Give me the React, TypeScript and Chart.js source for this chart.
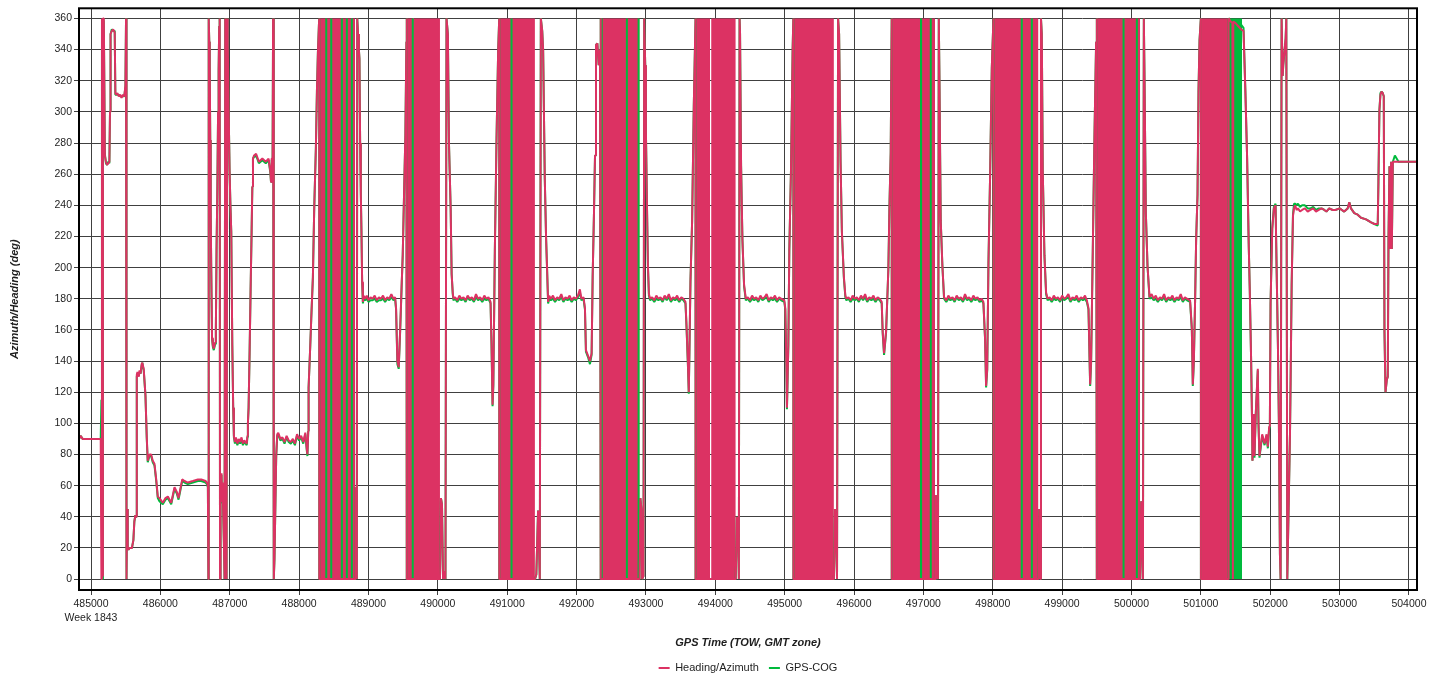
import { useEffect, useRef } from 'react';
import { Chart, registerables } from 'chart.js';

Chart.register(...registerables);

// GPS time of week (s)
const tow = [
  484827, 484850, 484865, 484880, 485000, 485100, 485140,
  485150, 485158, 485165, 485172, 485185, 485200, 485215, 485230, 485250, 485265,
  485274, 485282, 485300, 485320, 485342, 485351, 485365, 485380, 485400, 485420,
  485440, 485460, 485480, 485496, 485505, 485512,
  485520, 485530, 485540, 485560, 485590, 485611, 485625, 485640, 485652, 485660,
  485670, 485690, 485700, 485715, 485730, 485740, 485760, 485785, 485804, 485818,
  485843, 485867, 485890, 485915, 485940, 485963, 485987, 486035, 486074, 486108, 486156,
  486204, 486237, 486262, 486315, 486348, 486396, 486469, 486541, 486589, 486652, 486671,
  486685, 486692, 486697, 486705, 486712, 486719, 486726, 486733, 486745, 486757,
  486770, 486790, 486800, 486810, 486822, 486832, 486840, 486848, 486855, 486860,
  486868, 486875, 486882, 486890, 486897, 486905, 486915, 486925, 486935, 486945,
  486955, 486965, 486972, 486985, 486998, 487010, 487022, 487037, 487050, 487060,
  487075, 487090, 487110, 487130, 487150, 487170, 487190, 487210, 487230, 487245, 487255,
  487262, 487272, 487287, 487301, 487316, 487326, 487335, 487350, 487380, 487420,
  487470, 487520, 487560, 487585, 487595, 487605, 487618, 487625, 487635, 487645,
  487670, 487685, 487700, 487730, 487760, 487790, 487820, 487850, 487880, 487910,
  487940, 487970, 488000, 488030, 488060, 488090, 488110, 488120, 488132, 488137,
  488161, 488175, 488199, 488218, 488242, 488257, 488271, 488285, 488290,
  488291, 488390, 488391, 488392, 488462, 488463, 488464, 488615, 488616, 488617, 488687, 488688, 488689, 488759, 488760, 488761, 488808,
  488815, 488825, 488832, 488838, 488850, 488862, 488870, 488880, 488890, 488899, 488909, 488920, 488930,
  488950, 488975, 489000, 489030, 489060, 489090, 489120, 489150, 489180, 489210, 489240, 489270, 489300, 489330, 489360, 489384,
  489398, 489417, 489436, 489456, 489480, 489494, 489513, 489532, 489547, 489552,
  489553, 489637, 489638, 489639, 490031,
  490045, 490060, 490075, 490090, 490110, 490125, 490145, 490161, 490185, 490199, 490215, 490225,
  490250, 490280, 490310, 490340, 490370, 490400, 490430, 490460, 490490, 490520, 490550, 490580, 490610, 490640, 490670, 490700, 490730, 490760,
  490774, 490789, 490800, 490822, 490846, 490870, 490885,
  490886, 491061, 491062, 491063, 491400,
  491420, 491445, 491460, 491470, 491485, 491505, 491518, 491542, 491560, 491575, 491590, 491605,
  491630, 491660, 491690, 491720, 491750, 491780, 491810, 491840, 491870, 491900, 491930, 491960, 491990, 492020, 492048, 492070, 492100,
  492121, 492135, 492169, 492193, 492217, 492232, 492251, 492266, 492280, 492300, 492319, 492338, 492348,
  492349, 492361, 492362, 492363, 492724, 492725, 492726, 492893, 492894, 492895, 492908,
  492920, 492935, 492945, 492965, 492975, 492990, 493000, 493014, 493029, 493043, 493060,
  493090, 493120, 493150, 493180, 493210, 493240, 493270, 493300, 493330, 493360, 493390, 493420, 493450, 493480, 493510, 493540, 493570,
  493584, 493604, 493618, 493642, 493666, 493690, 493715,
  493716, 494295,
  494310, 494325, 494340, 494350, 494357, 494372, 494391, 494415, 494440,
  494470, 494500, 494530, 494560, 494590, 494620, 494650, 494680, 494710, 494740, 494770, 494800, 494830, 494860, 494890, 494920, 494950, 494995,
  495009, 495024, 495033, 495053, 495067, 495091, 495115, 495125,
  495126, 495710,
  495725, 495740, 495755, 495770, 495785, 495806, 495825, 495854, 495875, 495890,
  495920, 495950, 495980, 496010, 496040, 496070, 496100, 496130, 496160, 496190, 496220, 496250, 496280, 496310, 496340, 496370, 496399,
  496413, 496433, 496462, 496495, 496510, 496529, 496543,
  496544, 496965, 496966, 496967, 497105, 497106, 497107, 497168,
  497180, 497195, 497210, 497222, 497231, 497250, 497274, 497298,
  497330, 497360, 497390, 497420, 497450, 497480, 497510, 497540, 497570, 497600, 497630, 497660, 497690, 497720, 497750, 497780, 497810, 497840, 497865,
  497889, 497904, 497920, 497938, 497962, 497986, 498010,
  498011, 498417, 498418, 498419, 498562, 498563, 498564, 498659,
  498670, 498685, 498695, 498707, 498721, 498745, 498769, 498790,
  498820, 498850, 498880, 498910, 498940, 498970, 499000, 499030, 499060, 499090, 499120, 499150, 499180, 499210, 499240, 499270, 499300, 499330, 499356,
  499380, 499404, 499418, 499442, 499466, 499490, 499500,
  499501, 499884, 499885, 499886, 500076, 500077, 500078, 500125,
  500140, 500155, 500165, 500178, 500188, 500207, 500231, 500260,
  500290, 500320, 500350, 500380, 500410, 500440, 500470, 500500, 500530, 500560, 500590, 500620, 500650, 500680, 500710, 500740, 500770, 500800, 500845,
  500870, 500884, 500899, 500918, 500932, 500952, 500966, 500981, 501000,
  501001, 501399,
  501400, 501430, 501455, 501462, 501468, 501500, 501540, 501580, 501615,
  501642, 501667, 501691, 501705, 501725, 501739, 501744, 501763, 501773, 501792,
  501821, 501831, 501845, 501884, 501918, 501947, 501966, 501985, 501995, 502005,
  502029, 502053, 502077, 502092, 502111, 502125, 502140, 502150, 502164, 502179,
  502188, 502208, 502222, 502232, 502246, 502270, 502285, 502294, 502309, 502328, 502343,
  502360, 502380, 502400, 502430, 502460, 502500, 502540, 502580, 502620, 502660,
  502700, 502740, 502780, 502810, 502850, 502900, 502940, 503000, 503067, 503116,
  503140, 503164, 503212, 503261, 503309, 503381, 503454, 503502, 503550,
  503560, 503574, 503589, 503605, 503623, 503637, 503647, 503662, 503681, 503695,
  503705, 503719, 503734, 503743, 503753, 503768, 503797, 503850, 503950, 504050, 504116,
];

// Heading/Azimuth (deg)
const heading = [
  90, 92, 91, 90, 90, 90, 90,
  0, 360, 2, 360, 360, 272, 268, 266, 267, 268,
  300, 350, 352, 353, 351, 312, 311, 312, 310, 311,
  309, 311, 310, 317, 360, 0,
  45, 20, 19, 20, 20, 25, 37, 41, 40, 131,
  133, 130, 134, 132, 138, 139, 135, 118, 91, 76,
  80, 80, 76, 74, 64, 53, 52, 49, 52, 53, 49,
  59, 56, 52, 64, 63, 62, 63, 64, 64, 63, 62,
  60, 0, 360, 345, 330, 282, 235, 200, 155, 150,
  148, 152, 160, 211, 252, 300, 326, 355, 360, 0,
  65, 55, 68, 50, 62, 45, 25, 0, 360, 358,
  0, 360, 343, 300, 262, 240, 223, 150, 110, 92,
  88, 91, 87, 90, 88, 91, 87, 89, 88, 87, 92,
  100, 110, 147, 186, 225, 252, 270, 272, 273, 268,
  270, 268, 270, 262, 255, 270, 270, 360, 0, 13,
  79, 93, 94, 90, 91, 88, 92, 89, 88, 90,
  87, 93, 90, 92, 88, 94, 84, 80, 95, 123,
  150, 167, 194, 238, 277, 313, 338, 355, 360,
  0, 0, 0, 0, 0, 0, 0, 0, 0, 0, 0, 0, 0, 0, 0, 0, 0,
  59, 55, 0, 360, 350, 340, 334, 280, 247, 223, 191, 178, 182,
  180, 182, 179, 181, 180, 182, 179, 181, 180, 182, 179, 181, 180, 183, 180, 181,
  174, 140, 136, 159, 191, 208, 247, 285, 345, 360,
  0, 0, 0, 0, 0,
  52, 48, 0, 5, 0, 360, 350, 279, 238, 196, 184, 180,
  181, 179, 182, 180, 181, 179, 182, 180, 181, 179, 183, 180, 181, 179, 182, 180, 181, 178,
  151, 112, 125, 211, 282, 340, 360,
  0, 0, 0, 0, 0,
  3, 44, 20, 0, 360, 352, 340, 257, 220, 199, 178, 182,
  180, 182, 179, 181, 180, 183, 179, 181, 180, 182, 179, 181, 180, 182, 186, 180, 181,
  174, 147, 143, 140, 145, 194, 235, 272, 343, 344, 330, 340, 360,
  0, 0, 0, 0, 0, 0, 0, 0, 0, 0, 0,
  52, 45, 0, 2, 360, 330, 287, 243, 201, 183, 180,
  181, 179, 182, 180, 181, 179, 182, 180, 183, 179, 181, 180, 182, 179, 181, 180, 178,
  164, 140, 120, 191, 230, 304, 360,
  0, 0,
  40, 35, 0, 360, 350, 265, 218, 189, 180,
  181, 179, 182, 180, 181, 179, 182, 180, 181, 183, 179, 181, 180, 182, 179, 181, 180, 179,
  174, 140, 110, 150, 211, 262, 340, 360,
  0, 0,
  45, 30, 0, 360, 350, 268, 223, 194, 182, 180,
  181, 179, 182, 180, 181, 179, 182, 180, 183, 179, 181, 180, 182, 179, 181, 180, 178,
  159, 145, 159, 199, 238, 274, 360,
  0, 0, 0, 0, 0, 0, 0, 0,
  54, 20, 0, 360, 323, 230, 201, 181,
  179, 182, 180, 181, 179, 182, 180, 181, 179, 183, 180, 181, 179, 182, 180, 181, 179, 180, 178,
  155, 124, 135, 203, 260, 328, 360,
  0, 0, 0, 0, 0, 0, 0, 0,
  45, 0, 360, 350, 262, 208, 184, 180,
  181, 179, 182, 180, 181, 179, 182, 180, 181, 183, 179, 181, 180, 182, 179, 181, 180, 182, 179,
  174, 125, 140, 211, 284, 345, 360,
  0, 0, 0, 0, 0, 0, 0, 0,
  50, 20, 0, 360, 321, 235, 201, 181,
  183, 180, 182, 179, 181, 180, 183, 179, 181, 180, 182, 179, 181, 180, 183, 179, 181, 180, 179,
  161, 125, 140, 181, 218, 247, 313, 346, 360,
  0, 0,
  360, 358, 357, 0, 358, 357, 355, 353, 352,
  313, 270, 213, 186, 140, 98, 76, 106, 79, 107,
  135, 100, 79, 93, 87, 93, 85, 98, 100, 177,
  225, 238, 240, 200, 150, 100, 16, 0, 360, 323,
  330, 340, 347, 360, 0, 57, 93, 128, 189, 233, 238,
  240, 237, 238, 236, 237, 238, 236, 237, 238, 236,
  237, 238, 237, 236, 238, 237, 237, 238, 236, 238,
  242, 238, 235, 234, 232, 231, 229, 228, 228,
  255, 301, 311, 313, 312, 310, 159, 120, 128, 130,
  218, 265, 212, 268, 212, 268, 268, 268, 268, 268, 268,
];

// GPS-COG (deg)
const cog = [
  90, 92, 91, 90, 90, 90, 90,
  115, 340, 0, 360, 358, 273, 267, 266, 268, 267,
  300, 350, 353, 352, 352, 311, 311, 311, 311, 310,
  310, 310, 310, 316, 360, 0,
  45, 20, 19, 20, 20, 25, 37, 41, 40, 130,
  132, 131, 133, 132, 137, 139, 134, 118, 90, 75,
  79, 79, 75, 73, 63, 52, 50, 48, 51, 52, 48,
  58, 55, 51, 63, 62, 61, 62, 63, 63, 62, 61,
  59, 0, 360, 345, 330, 282, 235, 200, 154, 149,
  147, 151, 160, 211, 252, 300, 326, 355, 360, 0,
  64, 54, 67, 49, 61, 44, 25, 0, 360, 358,
  0, 360, 343, 300, 262, 240, 223, 150, 110, 91,
  87, 90, 86, 89, 87, 90, 86, 88, 87, 86, 91,
  100, 110, 147, 186, 225, 252, 270, 271, 272, 267,
  269, 267, 269, 261, 255, 269, 270, 360, 0, 13,
  79, 92, 93, 89, 90, 87, 91, 88, 87, 89,
  86, 92, 89, 91, 87, 93, 83, 79, 95, 123,
  150, 167, 194, 238, 277, 313, 338, 355, 360,
  0, 0, 360, 0, 0, 360, 0, 0, 360, 0, 0, 360, 0, 0, 360, 0, 0,
  59, 55, 0, 360, 350, 340, 334, 280, 247, 223, 190, 177, 180,
  179, 180, 178, 179, 179, 180, 178, 179, 179, 180, 178, 180, 179, 181, 179, 180,
  173, 138, 135, 158, 190, 208, 247, 285, 345, 360,
  0, 0, 360, 0, 0,
  52, 48, 0, 5, 0, 360, 350, 279, 238, 196, 183, 179,
  180, 178, 180, 179, 180, 178, 181, 179, 180, 178, 181, 179, 180, 178, 180, 179, 180, 177,
  150, 111, 124, 211, 282, 340, 360,
  0, 0, 360, 0, 0,
  3, 44, 20, 0, 360, 352, 340, 257, 220, 199, 177, 180,
  179, 180, 178, 180, 179, 181, 178, 180, 179, 180, 178, 180, 179, 181, 184, 179, 180,
  173, 146, 142, 138, 144, 194, 235, 272, 343, 344, 330, 340, 360,
  0, 0, 360, 0, 0, 360, 0, 0, 360, 0, 0,
  52, 45, 0, 2, 360, 330, 287, 243, 201, 182, 179,
  180, 178, 180, 179, 180, 178, 181, 179, 181, 178, 180, 179, 180, 178, 180, 179, 177,
  163, 139, 119, 191, 230, 304, 360,
  0, 0,
  40, 35, 0, 360, 350, 265, 218, 188, 179,
  180, 178, 180, 179, 180, 178, 181, 179, 180, 181, 178, 180, 179, 180, 178, 180, 179, 178,
  173, 139, 109, 150, 211, 262, 340, 360,
  0, 0,
  45, 30, 0, 360, 350, 268, 223, 193, 181, 179,
  180, 178, 180, 179, 180, 178, 181, 179, 181, 178, 180, 179, 180, 178, 180, 179, 177,
  158, 144, 158, 199, 238, 274, 360,
  0, 0, 360, 0, 0, 360, 0, 0,
  54, 20, 0, 360, 323, 230, 201, 180,
  178, 180, 179, 180, 178, 181, 179, 180, 178, 181, 179, 180, 178, 180, 179, 180, 178, 179, 177,
  154, 123, 134, 203, 260, 328, 360,
  0, 0, 360, 0, 0, 360, 0, 0,
  45, 0, 360, 350, 262, 208, 183, 179,
  180, 178, 180, 179, 180, 178, 181, 179, 180, 181, 178, 180, 179, 180, 178, 180, 179, 180, 178,
  173, 124, 139, 211, 284, 345, 360,
  0, 0, 360, 0, 0, 360, 0, 0,
  50, 20, 0, 360, 321, 235, 201, 180,
  181, 179, 180, 178, 180, 179, 181, 178, 180, 179, 180, 178, 180, 179, 181, 178, 180, 179, 178,
  160, 124, 139, 181, 218, 247, 313, 346, 360,
  0, 0,
  360, 359, 358, 358, 358, 358, 357, 356, 354,
  313, 270, 213, 186, 140, 98, 76, 105, 78, 106,
  134, 99, 78, 92, 86, 92, 84, 97, 100, 177,
  225, 239, 241, 200, 150, 100, 16, 0, 360, 323,
  330, 340, 347, 360, 0, 57, 93, 128, 189, 234, 241,
  241, 240, 241, 239, 240, 240, 238, 238, 239, 237,
  238, 238, 237, 236, 238, 237, 237, 238, 236, 238,
  242, 238, 235, 234, 232, 231, 229, 228, 227,
  255, 301, 312, 313, 312, 310, 159, 120, 128, 130,
  218, 265, 212, 268, 212, 268, 272, 268, 268, 268, 268,
];

// Intervals where the trace wraps rapidly between 0 and 360 deg (solid bands)
const headingWrapStart = [488290, 489552, 490885, 492348, 493715, 493940, 495125, 496543, 498010, 499500, 501000];
const headingWrapEnd = [488808, 490031, 491400, 492908, 493925, 494295, 495710, 497168, 498659, 500125, 501400];
const cogWrapStart = [501400];
const cogWrapEnd = [501594];
const wrapLow = 0;
const wrapHigh = 360;

// Axis ticks
const xTickValues = [
  485000, 486000, 487000, 488000, 489000, 490000, 491000, 492000, 493000, 494000,
  495000, 496000, 497000, 498000, 499000, 500000, 501000, 502000, 503000, 504000,
];
const yTickValues = [0, 20, 40, 60, 80, 100, 120, 140, 160, 180, 200, 220, 240, 260, 280, 300, 320, 340, 360];
const weekLabel = 'Week 1843';
const firstTick = 485000;

const RED = '#DC3263';
const GREEN = '#00BA3C';
const FONT = '"Liberation Sans", Arial, sans-serif';
const TEXT = '#1e1e1e';
const GRID = '#404040';

export default function App() {
  const ref = useRef<HTMLCanvasElement | null>(null);

  useEffect(() => {
    if (!ref.current) return;
    const pts = (ys: number[]) => tow.map((t, i) => ({ x: t, y: ys[i] }));
    const band = (s: number, e: number, color: string, label: string) => ({
      label,
      data: [
        { x: s, y: wrapHigh },
        { x: e, y: wrapHigh },
      ],
      borderColor: 'rgba(0,0,0,0)',
      borderWidth: 0,
      backgroundColor: color,
      fill: { value: wrapLow },
      pointRadius: 0,
    });

    const datasets: any[] = [
      {
        label: 'Heading/Azimuth',
        data: pts(heading),
        borderColor: RED,
        backgroundColor: RED,
        borderWidth: 2,
        pointRadius: 0,
        tension: 0,
        fill: false,
        borderJoinStyle: 'bevel',
      },
      {
        label: 'GPS-COG',
        data: pts(cog),
        borderColor: GREEN,
        backgroundColor: GREEN,
        borderWidth: 2,
        pointRadius: 0,
        tension: 0,
        fill: false,
        borderJoinStyle: 'bevel',
      },
      ...headingWrapStart.map((s, i) => band(s, headingWrapEnd[i], RED, 'hw')),
      ...cogWrapStart.map((s, i) => band(s, cogWrapEnd[i], GREEN, 'cw')),
    ];

    const framePlugin = {
      id: 'frame',
      afterDraw(chart: any) {
        const { ctx, chartArea: a } = chart;
        ctx.save();
        ctx.strokeStyle = '#000';
        ctx.lineWidth = 2;
        ctx.strokeRect(a.left, a.top, a.right - a.left, a.bottom - a.top);
        ctx.restore();
      },
    };

    const chart = new Chart(ref.current, {
      type: 'line',
      data: { datasets },
      options: {
        animation: false,
        responsive: false,
        events: [],
        layout: { padding: { left: 0, top: 5, right: 28, bottom: -4.5 } },
        plugins: {
          tooltip: { enabled: false },
          legend: {
            position: 'bottom',
            fullSize: false,
            labels: {
              usePointStyle: true,
              pointStyle: 'line',
              pointStyleWidth: 11,
              padding: 10,
              color: TEXT,
              font: { family: FONT, size: 11 },
              filter: (item: any) => item.datasetIndex < 2,
            },
          },
        },
        scales: {
          x: {
            type: 'linear',
            min: 484827,
            max: 504116,
            afterBuildTicks: (s: any) => {
              s.ticks = xTickValues.map((v) => ({ value: v }));
            },
            afterFit: (s: any) => {
              s.height = 62.5;
            },
            border: { display: false },
            grid: { color: GRID, lineWidth: 1, tickLength: 5, drawTicks: true },
            ticks: {
              autoSkip: false,
              maxRotation: 0,
              minRotation: 0,
              padding: 2,
              color: TEXT,
              font: { family: FONT, size: 10.5, lineHeight: 1.35 },
              callback: (v: any) => (v === firstTick ? [String(v), weekLabel] : String(v)),
            },
            title: {
              display: true,
              text: 'GPS Time (TOW, GMT zone)',
              color: TEXT,
              font: { family: FONT, size: 11, weight: 'bold', style: 'italic' },
              padding: { top: 4, bottom: 3 },
            },
          },
          y: {
            type: 'linear',
            min: -7,
            max: 366.5,
            afterBuildTicks: (s: any) => {
              s.ticks = yTickValues.map((v) => ({ value: v }));
            },
            afterFit: (s: any) => {
              s.width = 79;
            },
            border: { display: false },
            grid: { color: GRID, lineWidth: 1, tickLength: 5, drawTicks: true },
            ticks: {
              autoSkip: false,
              padding: 2,
              color: TEXT,
              font: { family: FONT, size: 10.5 },
              callback: (v: any) => String(v),
            },
            title: {
              display: true,
              text: 'Azimuth/Heading (deg)',
              color: TEXT,
              font: { family: FONT, size: 11, weight: 'bold', style: 'italic' },
              padding: { top: 8, bottom: 0 },
            },
          },
        },
      } as any,
      plugins: [framePlugin],
    });

    return () => chart.destroy();
  }, []);

  return (
    <div style={{ position: 'fixed', left: 0, top: 0, width: 1445, height: 679, background: '#fff' }}>
      <canvas ref={ref} width={1445} height={679} style={{ display: 'block' }} />
    </div>
  );
}
